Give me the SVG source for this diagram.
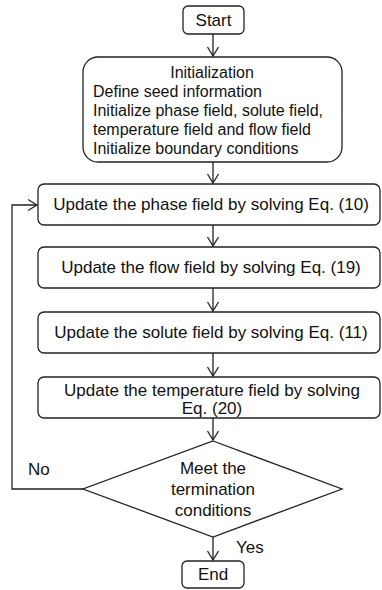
<svg xmlns="http://www.w3.org/2000/svg" width="382" height="590" viewBox="0 0 382 590">
<style>
.box{fill:#fff;stroke:#222;stroke-width:1.3}
.t{font-family:"Liberation Sans",Arial,sans-serif;font-size:17px;fill:#111}
.ti{font-family:"Liberation Sans",Arial,sans-serif;font-size:16px;fill:#111}
.c{text-anchor:middle}
.ln{fill:none;stroke:#222;stroke-width:1.3}
</style>
<defs>
<marker id="ah" markerWidth="14" markerHeight="14" refX="12" refY="7" orient="auto" markerUnits="userSpaceOnUse" viewBox="0 0 14 14">
<polyline points="3,1.5 12,7 3,12.5" fill="none" stroke="#222" stroke-width="1.3"/>
</marker>
</defs>
<rect width="382" height="590" fill="#fff"/>
<g id="connectors">
<line class="ln" x1="213" y1="34" x2="213" y2="56" marker-end="url(#ah)"/>
<line class="ln" x1="213" y1="162" x2="213" y2="183" marker-end="url(#ah)"/>
<line class="ln" x1="213" y1="225" x2="213" y2="246" marker-end="url(#ah)"/>
<line class="ln" x1="213" y1="288" x2="213" y2="311" marker-end="url(#ah)"/>
<line class="ln" x1="213" y1="353" x2="213" y2="376" marker-end="url(#ah)"/>
<line class="ln" x1="213" y1="418" x2="213" y2="440" marker-end="url(#ah)"/>
<line class="ln" x1="213" y1="537" x2="213" y2="560" marker-end="url(#ah)"/>
<polyline class="ln" points="83,489 12,489 12,205 37,205" marker-end="url(#ah)"/>
<text class="t" x="28" y="475">No</text>
<text class="t" x="236" y="553">Yes</text>
</g>
<g id="start">
<rect class="box" x="183" y="6" width="61" height="28" rx="5"/>
<text class="t c" x="213.5" y="26">Start</text>
</g>
<g id="init">
<rect class="box" x="83" y="57" width="259" height="105" rx="15"/>
<text class="ti c" x="212" y="78" font-size="17">Initialization</text>
<text class="ti" x="93" y="97">Define seed information</text>
<text class="ti" x="93" y="116" textLength="230" lengthAdjust="spacingAndGlyphs">Initialize phase field, solute field,</text>
<text class="ti" x="93" y="135">temperature field and flow field</text>
<text class="ti" x="93" y="154">Initialize boundary conditions</text>
</g>
<g id="phase">
<rect class="box" x="38" y="184" width="342" height="41" rx="6"/>
<text class="t c" x="211" y="210">Update the phase field by solving Eq. (10)</text>
</g>
<g id="flow">
<rect class="box" x="38" y="247" width="342" height="41" rx="6"/>
<text class="t c" x="211" y="273">Update the flow field by solving Eq. (19)</text>
</g>
<g id="solute">
<rect class="box" x="38" y="312" width="342" height="41" rx="6"/>
<text class="t c" x="211" y="338">Update the solute field by solving Eq. (11)</text>
</g>
<g id="temperature">
<rect class="box" x="38" y="377" width="342" height="41" rx="6"/>
<text class="t c" x="212" y="396">Update the temperature field by solving</text>
<text class="t c" x="212" y="414">Eq. (20)</text>
</g>
<g id="decision">
<polygon class="box" points="213,441 342,489 213,537 83,489"/>
<text class="t c" x="213" y="474">Meet the</text>
<text class="t c" x="213" y="495">termination</text>
<text class="t c" x="213" y="516">conditions</text>
</g>
<g id="end">
<rect class="box" x="182" y="561" width="62" height="27" rx="5"/>
<text class="t c" x="213" y="580">End</text>
</g>
</svg>
